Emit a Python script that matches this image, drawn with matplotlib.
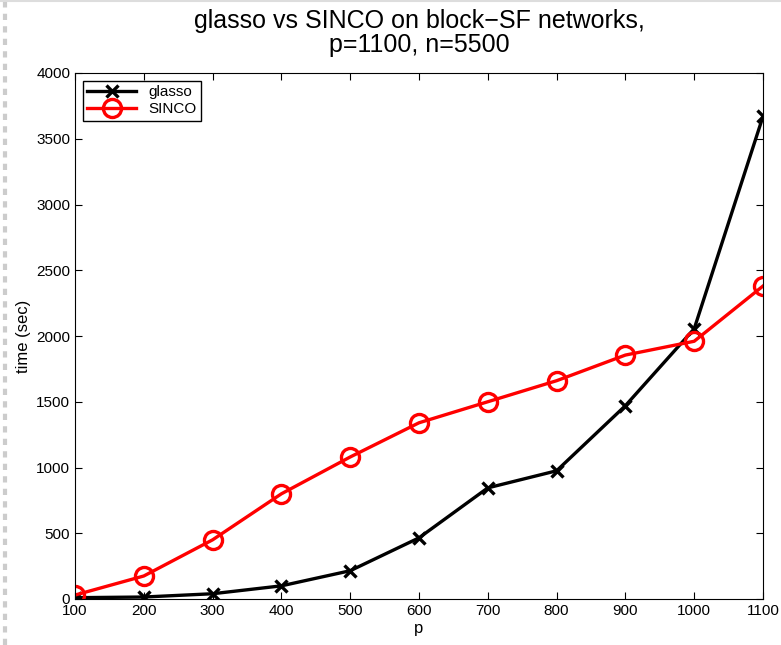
import matplotlib
matplotlib.use("Agg")
import matplotlib.pyplot as plt
from matplotlib.lines import Line2D

# problem sizes and timings (sec)
p_vals = [100, 200, 300, 400, 500, 600, 700, 800, 900, 1000, 1100]
glasso_time = [10, 15, 40, 100, 215, 465, 845, 975, 1470, 2055, 3670]
sinco_time = [30, 175, 450, 800, 1080, 1340, 1500, 1660, 1855, 1960, 2380]

plt.rcParams['font.family'] = ['Liberation Sans', 'DejaVu Sans']

fig = plt.figure(figsize=(7.81, 6.45), dpi=100)
ax = fig.add_axes([75 / 781, 1 - 599 / 645, (763 - 75) / 781, (599 - 73) / 645])

ax.plot(p_vals, glasso_time, color='black', lw=2.4, marker='x',
        markersize=9, markeredgewidth=2.4, label='glasso')
ax.plot(p_vals, sinco_time, color='red', lw=2.4, marker='o',
        markersize=13, markerfacecolor='none', markeredgewidth=2.4, label='SINCO')

ax.set_xlim(100, 1100)
ax.set_ylim(0, 4000)
ax.set_xticks(p_vals)
ax.set_yticks(range(0, 4001, 500))
ax.tick_params(direction='in', top=True, right=True, labelsize=11, length=5)
ax.set_xlabel('p', fontsize=12, labelpad=2)
ax.set_ylabel('time (sec)', fontsize=12)
ax.set_title('glasso vs SINCO on block\u2212SF networks,\np=1100, n=5500',
             fontsize=18, pad=15, linespacing=1.0)

leg = ax.legend(loc='upper left', fontsize=11, handlelength=3.2, fancybox=False,
                framealpha=1, edgecolor='black', borderpad=0.3, labelspacing=0.2,
                borderaxespad=0.5)
leg.get_frame().set_linewidth(1.0)

# faint screenshot border on the left/top
fig.add_artist(Line2D([0.006, 0.006], [0, 1], transform=fig.transFigure,
                      color='#cccccc', lw=3, ls=(0, (1.5, 1.5))))
fig.add_artist(Line2D([0, 1], [0.998, 0.998], transform=fig.transFigure,
                      color='#dddddd', lw=1.5))

fig.savefig('out.png', dpi=100)
